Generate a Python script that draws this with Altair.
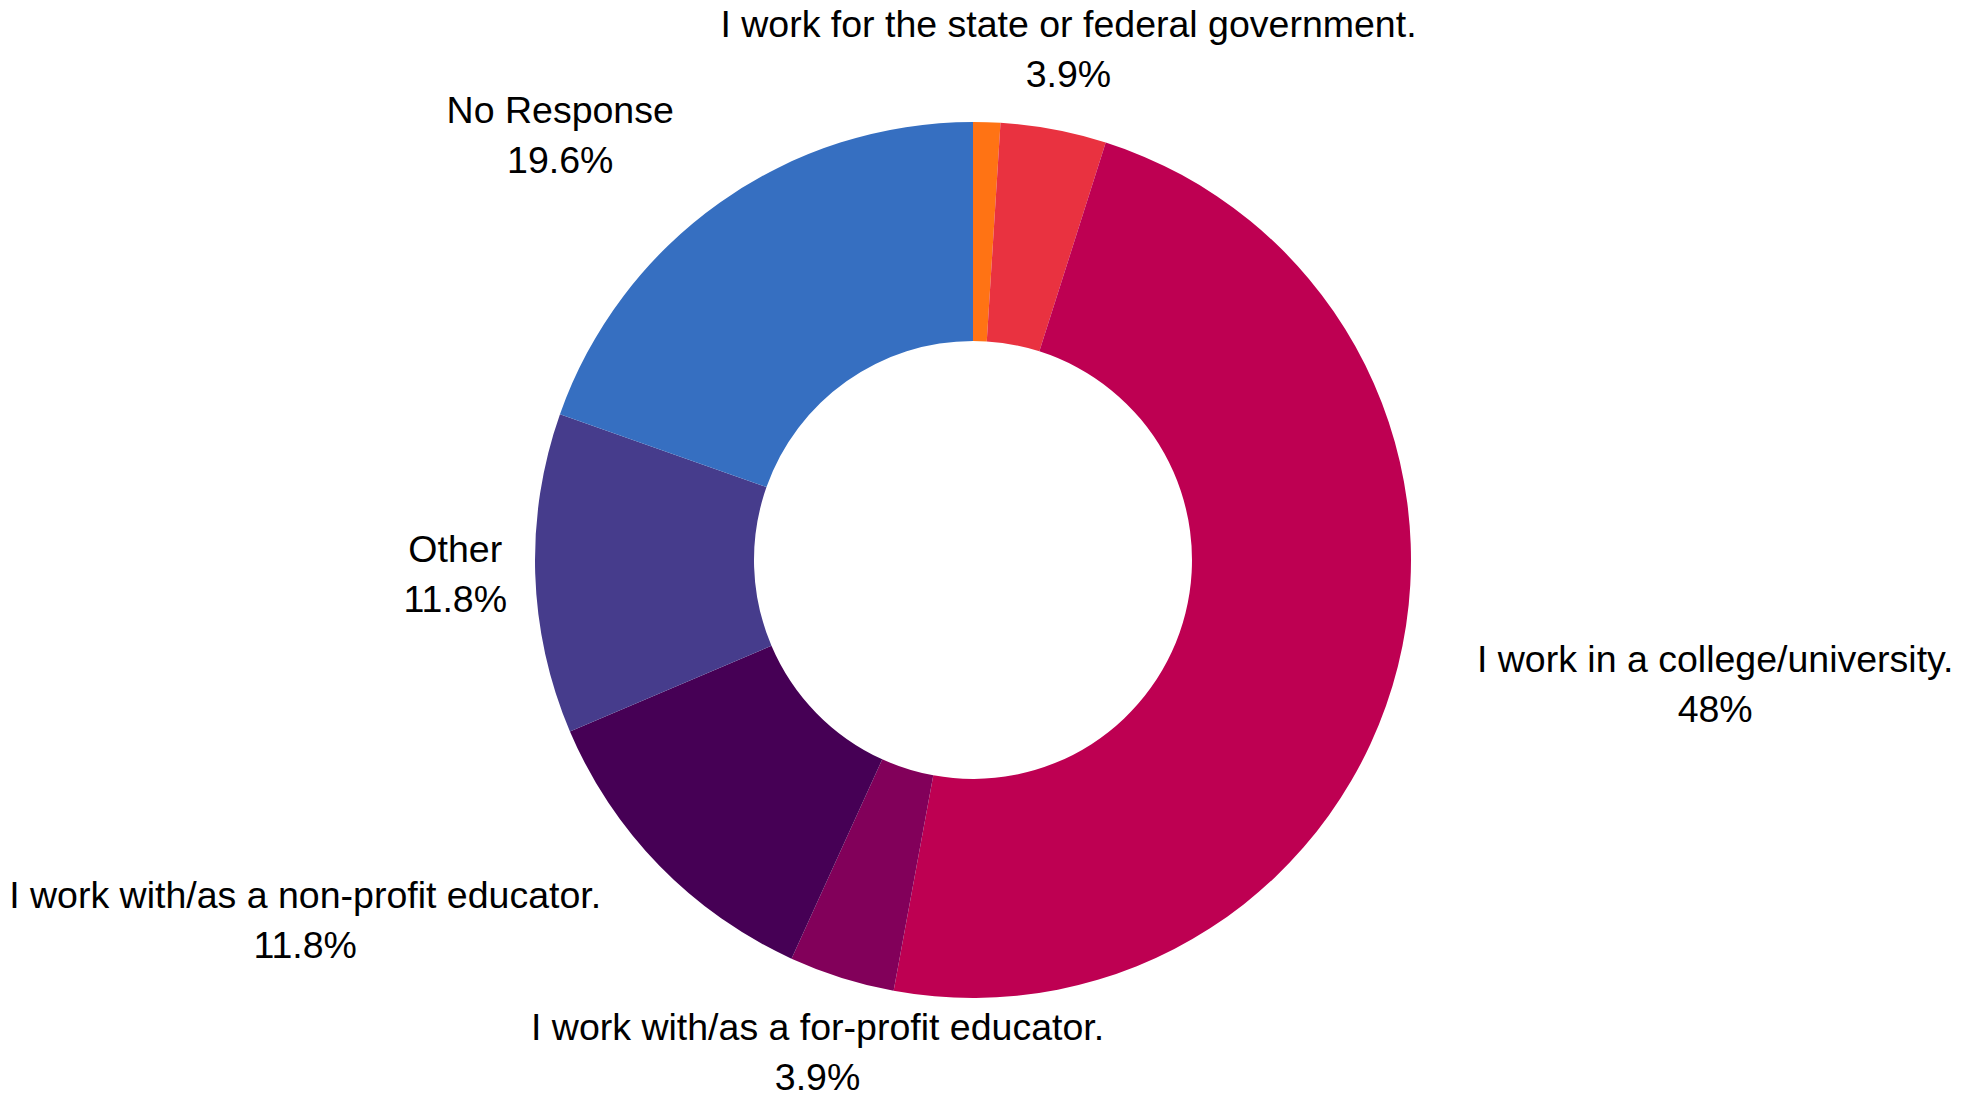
import altair as alt
import pandas as pd

categories = [
    "(unlabeled)",
    "I work for the state or federal government.",
    "I work in a college/university.",
    "I work with/as a for-profit educator.",
    "I work with/as a non-profit educator.",
    "Other",
    "No Response",
]
values = [1.0, 3.9, 48.0, 3.9, 11.8, 11.8, 19.6]
pct_labels = ["", "3.9%", "48%", "3.9%", "11.8%", "11.8%", "19.6%"]
label_side = ["none", "center", "left", "center", "right", "center", "right"]
colors = ["#FF7314", "#E93240", "#BE0052", "#82005A", "#460055", "#463C8C", "#366FC1"]

FONT_SIZE = 37.5
LINE_HEIGHT = 50
LABEL_RADIUS = 518

# Liberation Sans / Arial advance widths (1/1000 em) for measuring label blocks
_W = {" ": 278, ".": 278, "/": 278, "-": 333, "%": 889, "I": 278, "N": 722, "R": 722, "O": 778,
      "a": 556, "b": 556, "c": 500, "d": 556, "e": 556, "f": 278, "g": 556, "h": 556, "i": 222,
      "j": 222, "k": 500, "l": 222, "m": 833, "n": 556, "o": 556, "p": 556, "q": 556, "r": 333,
      "s": 500, "t": 278, "u": 556, "v": 500, "w": 722, "x": 500, "y": 500, "z": 500}


def text_width(s):
    return sum(_W.get(ch, 556) for ch in s) * FONT_SIZE / 1000.0


df = pd.DataFrame({
    "order": list(range(len(categories))),
    "category": categories,
    "value": values,
    "pct": pct_labels,
})

theta_scale = alt.Scale(domain=[0, 100])

base = alt.Chart(df).transform_window(
    cum="sum(value)", sort=[alt.SortField("order")], frame=[None, 0]
).transform_calculate(
    start="datum.cum - datum.value",
    mid="datum.cum - datum.value / 2",
    text="datum.category + '\\n' + datum.pct",
)

arc = base.mark_arc(outerRadius=438, innerRadius=219).encode(
    theta=alt.Theta("start:Q", scale=theta_scale),
    theta2="cum:Q",
    color=alt.Color("category:N", scale=alt.Scale(domain=categories, range=colors), legend=None),
    order=alt.Order("order:Q"),
)

layers = [arc]
for cat, pct, side in zip(categories, pct_labels, label_side):
    if side == "none":
        continue
    w = max(text_width(cat), text_width(pct))
    off = {"left": w / 2, "right": -w / 2, "center": 0}[side]
    layers.append(
        base.transform_filter(alt.datum.category == cat).mark_text(
            align="center",
            baseline="middle",
            radius=LABEL_RADIUS,
            dx=off,
            dy=-LINE_HEIGHT / 2,
            fontSize=FONT_SIZE,
            font="Liberation Sans",
            lineHeight=LINE_HEIGHT,
            lineBreak="\n",
            color="#000000",
        ).encode(
            theta=alt.Theta("mid:Q", scale=theta_scale),
            text="text:N",
        )
    )

chart = alt.layer(*layers).properties(
    width=1930,
    height=1052,
    padding={"left": 0, "top": 26, "right": 20, "bottom": 9},
    autosize=alt.AutoSizeParams(type="none"),
).configure_view(stroke=None)

chart.save("out.html", embed_options={"renderer": "svg", "actions": False})
